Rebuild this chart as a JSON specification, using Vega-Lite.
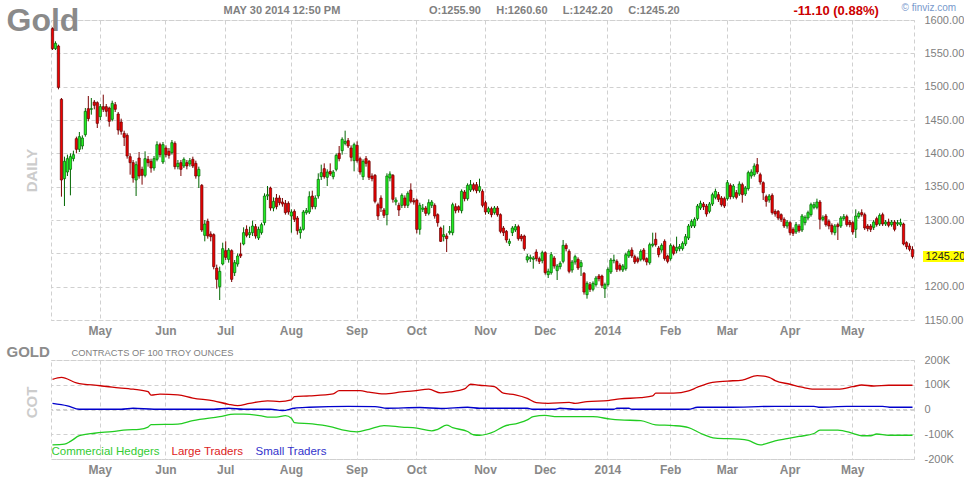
{
  "$schema": "https://vega.github.io/schema/vega-lite/v6.json",
  "background": "#ffffff",
  "padding": {"left": 5, "top": 1, "right": 1, "bottom": 4},
  "spacing": 6,
  "datasets": {
    "prices": [
      {"d":"2013-04-09","o":1587,"h":1589,"l":1555,"c":1557},
      {"d":"2013-04-10","o":1557,"h":1568,"l":1555,"c":1565},
      {"d":"2013-04-11","o":1561,"h":1563,"l":1496,"c":1499},
      {"d":"2013-04-12","o":1481,"h":1483,"l":1335,"c":1360},
      {"d":"2013-04-15","o":1362,"h":1395,"l":1321,"c":1388},
      {"d":"2013-04-16","o":1372,"h":1398,"l":1366,"c":1392},
      {"d":"2013-04-17","o":1376,"h":1400,"l":1337,"c":1395},
      {"d":"2013-04-18","o":1392,"h":1404,"l":1388,"c":1398},
      {"d":"2013-04-19","o":1422,"h":1425,"l":1400,"c":1406},
      {"d":"2013-04-22","o":1406,"h":1432,"l":1402,"c":1425},
      {"d":"2013-04-23","o":1411,"h":1427,"l":1406,"c":1423},
      {"d":"2013-04-24","o":1428,"h":1468,"l":1425,"c":1463},
      {"d":"2013-04-25","o":1467,"h":1486,"l":1448,"c":1452},
      {"d":"2013-04-26","o":1466,"h":1483,"l":1458,"c":1467},
      {"d":"2013-04-29","o":1477,"h":1480,"l":1466,"c":1472},
      {"d":"2013-04-30","o":1476,"h":1478,"l":1438,"c":1445},
      {"d":"2013-05-01","o":1455,"h":1474,"l":1450,"c":1470},
      {"d":"2013-05-02","o":1470,"h":1488,"l":1462,"c":1466},
      {"d":"2013-05-03","o":1470,"h":1474,"l":1455,"c":1463},
      {"d":"2013-05-06","o":1468,"h":1470,"l":1440,"c":1448},
      {"d":"2013-05-07","o":1451,"h":1479,"l":1448,"c":1475},
      {"d":"2013-05-08","o":1473,"h":1477,"l":1462,"c":1466},
      {"d":"2013-05-09","o":1459,"h":1462,"l":1428,"c":1435},
      {"d":"2013-05-10","o":1447,"h":1452,"l":1428,"c":1433},
      {"d":"2013-05-13","o":1430,"h":1434,"l":1411,"c":1424},
      {"d":"2013-05-14","o":1427,"h":1430,"l":1392,"c":1396},
      {"d":"2013-05-15","o":1395,"h":1400,"l":1368,"c":1386},
      {"d":"2013-05-16","o":1386,"h":1390,"l":1356,"c":1363},
      {"d":"2013-05-17","o":1360,"h":1388,"l":1336,"c":1383},
      {"d":"2013-05-20","o":1393,"h":1402,"l":1362,"c":1366},
      {"d":"2013-05-21","o":1376,"h":1380,"l":1353,"c":1367},
      {"d":"2013-05-22","o":1367,"h":1403,"l":1364,"c":1392},
      {"d":"2013-05-23","o":1391,"h":1396,"l":1380,"c":1386},
      {"d":"2013-05-24","o":1388,"h":1392,"l":1371,"c":1378},
      {"d":"2013-05-28","o":1378,"h":1396,"l":1374,"c":1392},
      {"d":"2013-05-29","o":1391,"h":1418,"l":1388,"c":1413},
      {"d":"2013-05-30","o":1413,"h":1416,"l":1394,"c":1398},
      {"d":"2013-05-31","o":1387,"h":1417,"l":1384,"c":1413},
      {"d":"2013-06-03","o":1408,"h":1412,"l":1394,"c":1398},
      {"d":"2013-06-04","o":1403,"h":1408,"l":1392,"c":1397},
      {"d":"2013-06-05","o":1401,"h":1420,"l":1398,"c":1416},
      {"d":"2013-06-06","o":1415,"h":1418,"l":1376,"c":1380},
      {"d":"2013-06-07","o":1380,"h":1390,"l":1376,"c":1385},
      {"d":"2013-06-10","o":1386,"h":1390,"l":1366,"c":1376},
      {"d":"2013-06-11","o":1381,"h":1394,"l":1378,"c":1391},
      {"d":"2013-06-12","o":1386,"h":1390,"l":1376,"c":1381},
      {"d":"2013-06-13","o":1384,"h":1393,"l":1380,"c":1389},
      {"d":"2013-06-14","o":1391,"h":1395,"l":1378,"c":1381},
      {"d":"2013-06-17","o":1385,"h":1389,"l":1362,"c":1366},
      {"d":"2013-06-18","o":1366,"h":1380,"l":1348,"c":1376},
      {"d":"2013-06-19","o":1352,"h":1354,"l":1282,"c":1285},
      {"d":"2013-06-20","o":1277,"h":1300,"l":1268,"c":1294},
      {"d":"2013-06-21","o":1298,"h":1302,"l":1272,"c":1276},
      {"d":"2013-06-24","o":1279,"h":1283,"l":1268,"c":1275},
      {"d":"2013-06-25","o":1278,"h":1280,"l":1226,"c":1230},
      {"d":"2013-06-26","o":1228,"h":1233,"l":1197,"c":1211},
      {"d":"2013-06-27","o":1200,"h":1230,"l":1180,"c":1223},
      {"d":"2013-06-28","o":1234,"h":1266,"l":1232,"c":1257},
      {"d":"2013-07-01","o":1254,"h":1268,"l":1240,"c":1244},
      {"d":"2013-07-02","o":1241,"h":1258,"l":1236,"c":1255},
      {"d":"2013-07-03","o":1254,"h":1256,"l":1207,"c":1211},
      {"d":"2013-07-05","o":1221,"h":1240,"l":1216,"c":1236},
      {"d":"2013-07-08","o":1234,"h":1250,"l":1230,"c":1246},
      {"d":"2013-07-09","o":1249,"h":1266,"l":1243,"c":1246},
      {"d":"2013-07-10","o":1264,"h":1289,"l":1262,"c":1281},
      {"d":"2013-07-11","o":1286,"h":1292,"l":1274,"c":1277},
      {"d":"2013-07-12","o":1278,"h":1290,"l":1273,"c":1281},
      {"d":"2013-07-15","o":1281,"h":1299,"l":1276,"c":1291},
      {"d":"2013-07-16","o":1290,"h":1294,"l":1272,"c":1276},
      {"d":"2013-07-17","o":1273,"h":1290,"l":1270,"c":1286},
      {"d":"2013-07-18","o":1281,"h":1296,"l":1278,"c":1293},
      {"d":"2013-07-19","o":1296,"h":1340,"l":1292,"c":1336},
      {"d":"2013-07-22","o":1336,"h":1351,"l":1330,"c":1338},
      {"d":"2013-07-23","o":1348,"h":1350,"l":1314,"c":1318},
      {"d":"2013-07-24","o":1318,"h":1334,"l":1313,"c":1328},
      {"d":"2013-07-25","o":1333,"h":1339,"l":1316,"c":1320},
      {"d":"2013-07-26","o":1333,"h":1337,"l":1322,"c":1326},
      {"d":"2013-07-29","o":1327,"h":1333,"l":1320,"c":1324},
      {"d":"2013-07-30","o":1325,"h":1330,"l":1308,"c":1311},
      {"d":"2013-07-31","o":1325,"h":1328,"l":1308,"c":1312},
      {"d":"2013-08-01","o":1306,"h":1316,"l":1281,"c":1312},
      {"d":"2013-08-02","o":1313,"h":1316,"l":1297,"c":1301},
      {"d":"2013-08-05","o":1303,"h":1306,"l":1278,"c":1284},
      {"d":"2013-08-06","o":1281,"h":1290,"l":1272,"c":1286},
      {"d":"2013-08-07","o":1286,"h":1315,"l":1284,"c":1312},
      {"d":"2013-08-08","o":1311,"h":1318,"l":1308,"c":1314},
      {"d":"2013-08-09","o":1312,"h":1343,"l":1309,"c":1335},
      {"d":"2013-08-12","o":1336,"h":1344,"l":1316,"c":1320},
      {"d":"2013-08-13","o":1320,"h":1337,"l":1316,"c":1333},
      {"d":"2013-08-14","o":1336,"h":1370,"l":1332,"c":1361},
      {"d":"2013-08-15","o":1365,"h":1383,"l":1360,"c":1371},
      {"d":"2013-08-16","o":1377,"h":1385,"l":1362,"c":1365},
      {"d":"2013-08-19","o":1364,"h":1376,"l":1351,"c":1372},
      {"d":"2013-08-20","o":1373,"h":1385,"l":1366,"c":1369},
      {"d":"2013-08-21","o":1365,"h":1375,"l":1361,"c":1372},
      {"d":"2013-08-22","o":1376,"h":1400,"l":1373,"c":1397},
      {"d":"2013-08-23","o":1400,"h":1411,"l":1388,"c":1392},
      {"d":"2013-08-26","o":1404,"h":1424,"l":1398,"c":1421},
      {"d":"2013-08-27","o":1415,"h":1434,"l":1412,"c":1418},
      {"d":"2013-08-28","o":1419,"h":1423,"l":1408,"c":1411},
      {"d":"2013-08-29","o":1408,"h":1412,"l":1388,"c":1394},
      {"d":"2013-08-30","o":1389,"h":1416,"l":1373,"c":1413},
      {"d":"2013-09-03","o":1412,"h":1418,"l":1386,"c":1389},
      {"d":"2013-09-04","o":1392,"h":1395,"l":1368,"c":1372},
      {"d":"2013-09-05","o":1365,"h":1391,"l":1360,"c":1388},
      {"d":"2013-09-06","o":1392,"h":1396,"l":1380,"c":1385},
      {"d":"2013-09-09","o":1388,"h":1390,"l":1360,"c":1364},
      {"d":"2013-09-10","o":1366,"h":1370,"l":1358,"c":1362},
      {"d":"2013-09-11","o":1367,"h":1369,"l":1325,"c":1328},
      {"d":"2013-09-12","o":1323,"h":1326,"l":1300,"c":1306},
      {"d":"2013-09-13","o":1333,"h":1337,"l":1312,"c":1318},
      {"d":"2013-09-16","o":1315,"h":1318,"l":1303,"c":1307},
      {"d":"2013-09-17","o":1308,"h":1370,"l":1292,"c":1366},
      {"d":"2013-09-18","o":1363,"h":1373,"l":1358,"c":1369},
      {"d":"2013-09-19","o":1367,"h":1369,"l":1326,"c":1331},
      {"d":"2013-09-20","o":1327,"h":1334,"l":1322,"c":1330},
      {"d":"2013-09-23","o":1322,"h":1326,"l":1306,"c":1315},
      {"d":"2013-09-24","o":1322,"h":1340,"l":1318,"c":1337},
      {"d":"2013-09-25","o":1333,"h":1337,"l":1318,"c":1322},
      {"d":"2013-09-26","o":1322,"h":1343,"l":1318,"c":1340},
      {"d":"2013-09-27","o":1345,"h":1355,"l":1325,"c":1328},
      {"d":"2013-09-30","o":1329,"h":1333,"l":1323,"c":1327},
      {"d":"2013-10-01","o":1330,"h":1332,"l":1280,"c":1286},
      {"d":"2013-10-02","o":1286,"h":1326,"l":1278,"c":1322},
      {"d":"2013-10-03","o":1316,"h":1324,"l":1312,"c":1318},
      {"d":"2013-10-04","o":1318,"h":1321,"l":1306,"c":1310},
      {"d":"2013-10-07","o":1310,"h":1331,"l":1307,"c":1326},
      {"d":"2013-10-08","o":1322,"h":1330,"l":1318,"c":1327},
      {"d":"2013-10-09","o":1322,"h":1325,"l":1302,"c":1306},
      {"d":"2013-10-10","o":1308,"h":1310,"l":1290,"c":1296},
      {"d":"2013-10-11","o":1288,"h":1290,"l":1267,"c":1268},
      {"d":"2013-10-14","o":1275,"h":1292,"l":1268,"c":1278},
      {"d":"2013-10-15","o":1276,"h":1280,"l":1252,"c":1272},
      {"d":"2013-10-16","o":1281,"h":1291,"l":1278,"c":1283},
      {"d":"2013-10-17","o":1281,"h":1326,"l":1277,"c":1323},
      {"d":"2013-10-18","o":1320,"h":1325,"l":1310,"c":1314},
      {"d":"2013-10-21","o":1320,"h":1322,"l":1311,"c":1315},
      {"d":"2013-10-22","o":1314,"h":1346,"l":1310,"c":1343},
      {"d":"2013-10-23","o":1342,"h":1345,"l":1328,"c":1332},
      {"d":"2013-10-24","o":1332,"h":1355,"l":1329,"c":1352},
      {"d":"2013-10-25","o":1345,"h":1360,"l":1342,"c":1353},
      {"d":"2013-10-28","o":1353,"h":1356,"l":1343,"c":1346},
      {"d":"2013-10-29","o":1353,"h":1357,"l":1340,"c":1344},
      {"d":"2013-10-30","o":1344,"h":1362,"l":1341,"c":1350},
      {"d":"2013-10-31","o":1343,"h":1346,"l":1319,"c":1322},
      {"d":"2013-11-01","o":1326,"h":1329,"l":1308,"c":1312},
      {"d":"2013-11-04","o":1312,"h":1320,"l":1309,"c":1317},
      {"d":"2013-11-05","o":1317,"h":1320,"l":1304,"c":1308},
      {"d":"2013-11-06","o":1311,"h":1321,"l":1308,"c":1318},
      {"d":"2013-11-07","o":1318,"h":1321,"l":1305,"c":1308},
      {"d":"2013-11-08","o":1308,"h":1310,"l":1280,"c":1283},
      {"d":"2013-11-11","o":1288,"h":1291,"l":1276,"c":1281},
      {"d":"2013-11-12","o":1283,"h":1285,"l":1266,"c":1270},
      {"d":"2013-11-13","o":1265,"h":1272,"l":1261,"c":1268},
      {"d":"2013-11-14","o":1281,"h":1291,"l":1276,"c":1288},
      {"d":"2013-11-15","o":1285,"h":1294,"l":1282,"c":1290},
      {"d":"2013-11-18","o":1290,"h":1293,"l":1269,"c":1272},
      {"d":"2013-11-19","o":1276,"h":1279,"l":1268,"c":1272},
      {"d":"2013-11-20","o":1276,"h":1278,"l":1254,"c":1257},
      {"d":"2013-11-21","o":1240,"h":1249,"l":1236,"c":1245},
      {"d":"2013-11-22","o":1242,"h":1248,"l":1237,"c":1244},
      {"d":"2013-11-25","o":1241,"h":1246,"l":1227,"c":1243},
      {"d":"2013-11-26","o":1252,"h":1256,"l":1238,"c":1242},
      {"d":"2013-11-27","o":1242,"h":1245,"l":1234,"c":1238},
      {"d":"2013-11-29","o":1239,"h":1254,"l":1235,"c":1251},
      {"d":"2013-12-02","o":1251,"h":1253,"l":1218,"c":1221},
      {"d":"2013-12-03","o":1218,"h":1227,"l":1213,"c":1223},
      {"d":"2013-12-04","o":1221,"h":1252,"l":1218,"c":1248},
      {"d":"2013-12-05","o":1243,"h":1246,"l":1227,"c":1231},
      {"d":"2013-12-06","o":1224,"h":1234,"l":1210,"c":1231},
      {"d":"2013-12-09","o":1230,"h":1238,"l":1226,"c":1235},
      {"d":"2013-12-10","o":1238,"h":1270,"l":1235,"c":1262},
      {"d":"2013-12-11","o":1262,"h":1265,"l":1253,"c":1257},
      {"d":"2013-12-12","o":1253,"h":1256,"l":1220,"c":1223},
      {"d":"2013-12-13","o":1225,"h":1240,"l":1221,"c":1237},
      {"d":"2013-12-16","o":1237,"h":1248,"l":1233,"c":1245},
      {"d":"2013-12-17","o":1241,"h":1244,"l":1225,"c":1228},
      {"d":"2013-12-18","o":1230,"h":1240,"l":1216,"c":1236},
      {"d":"2013-12-19","o":1220,"h":1222,"l":1188,"c":1192},
      {"d":"2013-12-20","o":1188,"h":1208,"l":1182,"c":1205},
      {"d":"2013-12-23","o":1203,"h":1207,"l":1192,"c":1196},
      {"d":"2013-12-24","o":1196,"h":1208,"l":1193,"c":1205},
      {"d":"2013-12-26","o":1203,"h":1216,"l":1200,"c":1213},
      {"d":"2013-12-27","o":1216,"h":1219,"l":1208,"c":1212},
      {"d":"2013-12-30","o":1216,"h":1218,"l":1198,"c":1202},
      {"d":"2013-12-31","o":1197,"h":1206,"l":1183,"c":1203},
      {"d":"2014-01-02","o":1203,"h":1229,"l":1200,"c":1226},
      {"d":"2014-01-03","o":1222,"h":1243,"l":1219,"c":1240},
      {"d":"2014-01-06","o":1239,"h":1248,"l":1235,"c":1240},
      {"d":"2014-01-07","o":1238,"h":1241,"l":1222,"c":1226},
      {"d":"2014-01-08","o":1232,"h":1235,"l":1223,"c":1226},
      {"d":"2014-01-09","o":1225,"h":1234,"l":1222,"c":1231},
      {"d":"2014-01-10","o":1227,"h":1251,"l":1224,"c":1248},
      {"d":"2014-01-13","o":1246,"h":1256,"l":1243,"c":1253},
      {"d":"2014-01-14","o":1255,"h":1259,"l":1243,"c":1246},
      {"d":"2014-01-15","o":1245,"h":1248,"l":1234,"c":1237},
      {"d":"2014-01-16","o":1242,"h":1245,"l":1235,"c":1238},
      {"d":"2014-01-17","o":1241,"h":1256,"l":1238,"c":1253},
      {"d":"2014-01-21","o":1255,"h":1258,"l":1238,"c":1241},
      {"d":"2014-01-22","o":1242,"h":1244,"l":1232,"c":1237},
      {"d":"2014-01-23","o":1236,"h":1266,"l":1233,"c":1263},
      {"d":"2014-01-24","o":1262,"h":1281,"l":1259,"c":1264},
      {"d":"2014-01-27","o":1271,"h":1281,"l":1260,"c":1263},
      {"d":"2014-01-28","o":1258,"h":1261,"l":1244,"c":1248},
      {"d":"2014-01-29","o":1255,"h":1265,"l":1251,"c":1262},
      {"d":"2014-01-30","o":1268,"h":1271,"l":1239,"c":1242},
      {"d":"2014-01-31","o":1246,"h":1248,"l":1235,"c":1238},
      {"d":"2014-02-03","o":1242,"h":1265,"l":1239,"c":1262},
      {"d":"2014-02-04","o":1260,"h":1263,"l":1247,"c":1250},
      {"d":"2014-02-05","o":1254,"h":1275,"l":1250,"c":1259},
      {"d":"2014-02-06","o":1257,"h":1264,"l":1253,"c":1260},
      {"d":"2014-02-07","o":1257,"h":1268,"l":1254,"c":1265},
      {"d":"2014-02-10","o":1264,"h":1279,"l":1261,"c":1275},
      {"d":"2014-02-11","o":1273,"h":1294,"l":1270,"c":1291},
      {"d":"2014-02-12","o":1291,"h":1301,"l":1288,"c":1298},
      {"d":"2014-02-13","o":1291,"h":1304,"l":1288,"c":1301},
      {"d":"2014-02-14","o":1302,"h":1324,"l":1299,"c":1321},
      {"d":"2014-02-18","o":1318,"h":1329,"l":1315,"c":1325},
      {"d":"2014-02-19","o":1324,"h":1327,"l":1315,"c":1320},
      {"d":"2014-02-20","o":1321,"h":1324,"l":1305,"c":1309},
      {"d":"2014-02-21","o":1313,"h":1327,"l":1310,"c":1324},
      {"d":"2014-02-24","o":1324,"h":1341,"l":1321,"c":1338},
      {"d":"2014-02-25","o":1334,"h":1347,"l":1331,"c":1343},
      {"d":"2014-02-26","o":1338,"h":1342,"l":1327,"c":1331},
      {"d":"2014-02-27","o":1333,"h":1336,"l":1320,"c":1323},
      {"d":"2014-02-28","o":1332,"h":1335,"l":1318,"c":1321},
      {"d":"2014-03-03","o":1332,"h":1360,"l":1329,"c":1356},
      {"d":"2014-03-04","o":1352,"h":1355,"l":1331,"c":1335},
      {"d":"2014-03-05","o":1335,"h":1354,"l":1332,"c":1351},
      {"d":"2014-03-06","o":1341,"h":1345,"l":1331,"c":1334},
      {"d":"2014-03-07","o":1339,"h":1358,"l":1336,"c":1354},
      {"d":"2014-03-10","o":1353,"h":1356,"l":1326,"c":1338},
      {"d":"2014-03-11","o":1339,"h":1351,"l":1336,"c":1348},
      {"d":"2014-03-12","o":1347,"h":1374,"l":1344,"c":1371},
      {"d":"2014-03-13","o":1366,"h":1376,"l":1362,"c":1372},
      {"d":"2014-03-14","o":1368,"h":1385,"l":1365,"c":1381},
      {"d":"2014-03-17","o":1383,"h":1393,"l":1369,"c":1372},
      {"d":"2014-03-18","o":1368,"h":1371,"l":1353,"c":1357},
      {"d":"2014-03-19","o":1356,"h":1358,"l":1330,"c":1341},
      {"d":"2014-03-20","o":1335,"h":1338,"l":1320,"c":1328},
      {"d":"2014-03-21","o":1330,"h":1339,"l":1326,"c":1336},
      {"d":"2014-03-24","o":1337,"h":1340,"l":1308,"c":1311},
      {"d":"2014-03-25","o":1313,"h":1316,"l":1305,"c":1309},
      {"d":"2014-03-26","o":1313,"h":1315,"l":1300,"c":1303},
      {"d":"2014-03-27","o":1308,"h":1310,"l":1297,"c":1301},
      {"d":"2014-03-28","o":1301,"h":1304,"l":1288,"c":1291},
      {"d":"2014-03-31","o":1291,"h":1300,"l":1287,"c":1297},
      {"d":"2014-04-01","o":1296,"h":1299,"l":1277,"c":1281},
      {"d":"2014-04-02","o":1286,"h":1289,"l":1276,"c":1280},
      {"d":"2014-04-03","o":1282,"h":1297,"l":1279,"c":1293},
      {"d":"2014-04-04","o":1291,"h":1294,"l":1281,"c":1284},
      {"d":"2014-04-07","o":1285,"h":1309,"l":1282,"c":1306},
      {"d":"2014-04-08","o":1296,"h":1307,"l":1292,"c":1304},
      {"d":"2014-04-09","o":1303,"h":1314,"l":1300,"c":1311},
      {"d":"2014-04-10","o":1308,"h":1326,"l":1305,"c":1323},
      {"d":"2014-04-11","o":1319,"h":1327,"l":1316,"c":1323},
      {"d":"2014-04-14","o":1319,"h":1332,"l":1316,"c":1327},
      {"d":"2014-04-15","o":1327,"h":1330,"l":1286,"c":1301},
      {"d":"2014-04-16","o":1301,"h":1307,"l":1298,"c":1304},
      {"d":"2014-04-17","o":1306,"h":1309,"l":1290,"c":1293},
      {"d":"2014-04-21","o":1298,"h":1301,"l":1286,"c":1291},
      {"d":"2014-04-22","o":1292,"h":1295,"l":1278,"c":1282},
      {"d":"2014-04-23","o":1281,"h":1294,"l":1277,"c":1291},
      {"d":"2014-04-24","o":1293,"h":1296,"l":1270,"c":1290},
      {"d":"2014-04-25","o":1291,"h":1306,"l":1288,"c":1303},
      {"d":"2014-04-28","o":1302,"h":1309,"l":1299,"c":1305},
      {"d":"2014-04-29","o":1305,"h":1308,"l":1290,"c":1293},
      {"d":"2014-04-30","o":1297,"h":1300,"l":1289,"c":1293},
      {"d":"2014-05-01","o":1296,"h":1299,"l":1278,"c":1282},
      {"d":"2014-05-02","o":1286,"h":1316,"l":1273,"c":1306},
      {"d":"2014-05-05","o":1305,"h":1313,"l":1302,"c":1310},
      {"d":"2014-05-06","o":1311,"h":1316,"l":1305,"c":1308},
      {"d":"2014-05-07","o":1308,"h":1311,"l":1285,"c":1288},
      {"d":"2014-05-08","o":1291,"h":1294,"l":1283,"c":1287},
      {"d":"2014-05-09","o":1291,"h":1294,"l":1282,"c":1286},
      {"d":"2014-05-12","o":1289,"h":1300,"l":1285,"c":1297},
      {"d":"2014-05-13","o":1302,"h":1305,"l":1290,"c":1293},
      {"d":"2014-05-14","o":1294,"h":1310,"l":1291,"c":1307},
      {"d":"2014-05-15","o":1308,"h":1311,"l":1291,"c":1294},
      {"d":"2014-05-16","o":1294,"h":1300,"l":1291,"c":1297},
      {"d":"2014-05-19","o":1297,"h":1302,"l":1289,"c":1292},
      {"d":"2014-05-20","o":1293,"h":1300,"l":1290,"c":1297},
      {"d":"2014-05-21","o":1297,"h":1300,"l":1283,"c":1286},
      {"d":"2014-05-22","o":1294,"h":1300,"l":1291,"c":1296},
      {"d":"2014-05-23","o":1293,"h":1302,"l":1290,"c":1296},
      {"d":"2014-05-27","o":1294,"h":1296,"l":1262,"c":1264},
      {"d":"2014-05-28","o":1266,"h":1268,"l":1256,"c":1260},
      {"d":"2014-05-29","o":1261,"h":1265,"l":1253,"c":1256},
      {"d":"2014-05-30","o":1255.9,"h":1260.6,"l":1242.2,"c":1245.2}
    ],
    "cot": [
      {"d":"2013-04-09","s":"Large Traders","v":122000},
      {"d":"2013-04-12","s":"Large Traders","v":130000},
      {"d":"2013-04-19","s":"Large Traders","v":108000},
      {"d":"2013-05-01","s":"Large Traders","v":96000},
      {"d":"2013-05-07","s":"Large Traders","v":90000},
      {"d":"2013-05-16","s":"Large Traders","v":82000},
      {"d":"2013-05-23","s":"Large Traders","v":72000},
      {"d":"2013-05-24","s":"Large Traders","v":58000},
      {"d":"2013-05-30","s":"Large Traders","v":62000},
      {"d":"2013-06-07","s":"Large Traders","v":59000},
      {"d":"2013-06-14","s":"Large Traders","v":46000},
      {"d":"2013-06-25","s":"Large Traders","v":35000},
      {"d":"2013-07-02","s":"Large Traders","v":21000},
      {"d":"2013-07-08","s":"Large Traders","v":16000},
      {"d":"2013-07-12","s":"Large Traders","v":25000},
      {"d":"2013-07-22","s":"Large Traders","v":35000},
      {"d":"2013-07-26","s":"Large Traders","v":32000},
      {"d":"2013-08-01","s":"Large Traders","v":39000},
      {"d":"2013-08-02","s":"Large Traders","v":52000},
      {"d":"2013-08-09","s":"Large Traders","v":55000},
      {"d":"2013-08-21","s":"Large Traders","v":63000},
      {"d":"2013-08-23","s":"Large Traders","v":76000},
      {"d":"2013-09-04","s":"Large Traders","v":76000},
      {"d":"2013-09-09","s":"Large Traders","v":70000},
      {"d":"2013-09-16","s":"Large Traders","v":63000},
      {"d":"2013-09-24","s":"Large Traders","v":71000},
      {"d":"2013-09-30","s":"Large Traders","v":75000},
      {"d":"2013-10-07","s":"Large Traders","v":82000},
      {"d":"2013-10-11","s":"Large Traders","v":67000},
      {"d":"2013-10-16","s":"Large Traders","v":71000},
      {"d":"2013-10-23","s":"Large Traders","v":83000},
      {"d":"2013-10-25","s":"Large Traders","v":102000},
      {"d":"2013-10-30","s":"Large Traders","v":98000},
      {"d":"2013-11-06","s":"Large Traders","v":92000},
      {"d":"2013-11-11","s":"Large Traders","v":66000},
      {"d":"2013-11-15","s":"Large Traders","v":59000},
      {"d":"2013-11-21","s":"Large Traders","v":45000},
      {"d":"2013-11-26","s":"Large Traders","v":28000},
      {"d":"2013-12-03","s":"Large Traders","v":25000},
      {"d":"2013-12-12","s":"Large Traders","v":29000},
      {"d":"2013-12-16","s":"Large Traders","v":25000},
      {"d":"2013-12-20","s":"Large Traders","v":32000},
      {"d":"2014-01-02","s":"Large Traders","v":36000},
      {"d":"2014-01-08","s":"Large Traders","v":43000},
      {"d":"2014-01-17","s":"Large Traders","v":48000},
      {"d":"2014-01-24","s":"Large Traders","v":55000},
      {"d":"2014-01-27","s":"Large Traders","v":66000},
      {"d":"2014-02-04","s":"Large Traders","v":66000},
      {"d":"2014-02-11","s":"Large Traders","v":75000},
      {"d":"2014-02-14","s":"Large Traders","v":90000},
      {"d":"2014-02-24","s":"Large Traders","v":110000},
      {"d":"2014-03-03","s":"Large Traders","v":115000},
      {"d":"2014-03-10","s":"Large Traders","v":119000},
      {"d":"2014-03-17","s":"Large Traders","v":137000},
      {"d":"2014-03-21","s":"Large Traders","v":130000},
      {"d":"2014-03-25","s":"Large Traders","v":117000},
      {"d":"2014-04-01","s":"Large Traders","v":102000},
      {"d":"2014-04-07","s":"Large Traders","v":90000},
      {"d":"2014-04-11","s":"Large Traders","v":82000},
      {"d":"2014-04-24","s":"Large Traders","v":82000},
      {"d":"2014-05-01","s":"Large Traders","v":92000},
      {"d":"2014-05-06","s":"Large Traders","v":99000},
      {"d":"2014-05-12","s":"Large Traders","v":95000},
      {"d":"2014-05-19","s":"Large Traders","v":98000},
      {"d":"2014-05-30","s":"Large Traders","v":98000},
      {"d":"2013-04-09","s":"Small Traders","v":25000},
      {"d":"2013-04-16","s":"Small Traders","v":15000},
      {"d":"2013-04-22","s":"Small Traders","v":1000},
      {"d":"2013-05-10","s":"Small Traders","v":1000},
      {"d":"2013-05-16","s":"Small Traders","v":5000},
      {"d":"2013-05-28","s":"Small Traders","v":1000},
      {"d":"2013-06-25","s":"Small Traders","v":1000},
      {"d":"2013-07-02","s":"Small Traders","v":5000},
      {"d":"2013-07-10","s":"Small Traders","v":1000},
      {"d":"2013-07-23","s":"Small Traders","v":1000},
      {"d":"2013-07-29","s":"Small Traders","v":-4000},
      {"d":"2013-08-02","s":"Small Traders","v":5000},
      {"d":"2013-08-09","s":"Small Traders","v":9000},
      {"d":"2013-08-28","s":"Small Traders","v":13000},
      {"d":"2013-09-11","s":"Small Traders","v":12000},
      {"d":"2013-09-17","s":"Small Traders","v":5000},
      {"d":"2013-10-02","s":"Small Traders","v":8000},
      {"d":"2013-10-11","s":"Small Traders","v":4000},
      {"d":"2013-10-24","s":"Small Traders","v":9000},
      {"d":"2013-10-30","s":"Small Traders","v":5000},
      {"d":"2013-11-21","s":"Small Traders","v":5000},
      {"d":"2013-11-25","s":"Small Traders","v":1000},
      {"d":"2013-12-05","s":"Small Traders","v":1000},
      {"d":"2013-12-09","s":"Small Traders","v":5000},
      {"d":"2013-12-16","s":"Small Traders","v":1000},
      {"d":"2014-01-06","s":"Small Traders","v":1000},
      {"d":"2014-01-07","s":"Small Traders","v":5000},
      {"d":"2014-01-13","s":"Small Traders","v":5000},
      {"d":"2014-01-14","s":"Small Traders","v":1000},
      {"d":"2014-02-11","s":"Small Traders","v":1000},
      {"d":"2014-02-14","s":"Small Traders","v":9000},
      {"d":"2014-03-03","s":"Small Traders","v":9000},
      {"d":"2014-03-25","s":"Small Traders","v":13000},
      {"d":"2014-04-11","s":"Small Traders","v":13000},
      {"d":"2014-04-15","s":"Small Traders","v":9000},
      {"d":"2014-04-29","s":"Small Traders","v":13000},
      {"d":"2014-05-15","s":"Small Traders","v":13000},
      {"d":"2014-05-20","s":"Small Traders","v":9000},
      {"d":"2014-05-30","s":"Small Traders","v":9000},
      {"d":"2013-04-09","s":"Commercial Hedgers","v":-143000},
      {"d":"2013-04-15","s":"Commercial Hedgers","v":-140000},
      {"d":"2013-04-17","s":"Commercial Hedgers","v":-129000},
      {"d":"2013-04-22","s":"Commercial Hedgers","v":-106000},
      {"d":"2013-04-29","s":"Commercial Hedgers","v":-96000},
      {"d":"2013-05-07","s":"Commercial Hedgers","v":-89000},
      {"d":"2013-05-14","s":"Commercial Hedgers","v":-82000},
      {"d":"2013-05-20","s":"Commercial Hedgers","v":-80000},
      {"d":"2013-05-23","s":"Commercial Hedgers","v":-71000},
      {"d":"2013-05-24","s":"Commercial Hedgers","v":-61000},
      {"d":"2013-06-07","s":"Commercial Hedgers","v":-59000},
      {"d":"2013-06-14","s":"Commercial Hedgers","v":-45000},
      {"d":"2013-06-27","s":"Commercial Hedgers","v":-29000},
      {"d":"2013-07-05","s":"Commercial Hedgers","v":-19000},
      {"d":"2013-07-10","s":"Commercial Hedgers","v":-19000},
      {"d":"2013-07-18","s":"Commercial Hedgers","v":-26000},
      {"d":"2013-07-22","s":"Commercial Hedgers","v":-31000},
      {"d":"2013-07-25","s":"Commercial Hedgers","v":-31000},
      {"d":"2013-07-30","s":"Commercial Hedgers","v":-25000},
      {"d":"2013-08-01","s":"Commercial Hedgers","v":-35000},
      {"d":"2013-08-02","s":"Commercial Hedgers","v":-53000},
      {"d":"2013-08-12","s":"Commercial Hedgers","v":-58000},
      {"d":"2013-08-20","s":"Commercial Hedgers","v":-69000},
      {"d":"2013-08-26","s":"Commercial Hedgers","v":-82000},
      {"d":"2013-09-03","s":"Commercial Hedgers","v":-90000},
      {"d":"2013-09-09","s":"Commercial Hedgers","v":-80000},
      {"d":"2013-09-16","s":"Commercial Hedgers","v":-65000},
      {"d":"2013-09-24","s":"Commercial Hedgers","v":-71000},
      {"d":"2013-10-01","s":"Commercial Hedgers","v":-75000},
      {"d":"2013-10-08","s":"Commercial Hedgers","v":-86000},
      {"d":"2013-10-10","s":"Commercial Hedgers","v":-80000},
      {"d":"2013-10-15","s":"Commercial Hedgers","v":-63000},
      {"d":"2013-10-17","s":"Commercial Hedgers","v":-73000},
      {"d":"2013-10-24","s":"Commercial Hedgers","v":-89000},
      {"d":"2013-10-28","s":"Commercial Hedgers","v":-102000},
      {"d":"2013-10-30","s":"Commercial Hedgers","v":-104000},
      {"d":"2013-11-06","s":"Commercial Hedgers","v":-89000},
      {"d":"2013-11-11","s":"Commercial Hedgers","v":-69000},
      {"d":"2013-11-18","s":"Commercial Hedgers","v":-55000},
      {"d":"2013-11-21","s":"Commercial Hedgers","v":-42000},
      {"d":"2013-11-25","s":"Commercial Hedgers","v":-29000},
      {"d":"2013-12-02","s":"Commercial Hedgers","v":-24000},
      {"d":"2013-12-06","s":"Commercial Hedgers","v":-29000},
      {"d":"2013-12-24","s":"Commercial Hedgers","v":-29000},
      {"d":"2014-01-03","s":"Commercial Hedgers","v":-39000},
      {"d":"2014-01-08","s":"Commercial Hedgers","v":-42000},
      {"d":"2014-01-17","s":"Commercial Hedgers","v":-45000},
      {"d":"2014-01-27","s":"Commercial Hedgers","v":-62000},
      {"d":"2014-02-04","s":"Commercial Hedgers","v":-65000},
      {"d":"2014-02-11","s":"Commercial Hedgers","v":-73000},
      {"d":"2014-02-18","s":"Commercial Hedgers","v":-96000},
      {"d":"2014-02-25","s":"Commercial Hedgers","v":-116000},
      {"d":"2014-03-07","s":"Commercial Hedgers","v":-120000},
      {"d":"2014-03-12","s":"Commercial Hedgers","v":-125000},
      {"d":"2014-03-18","s":"Commercial Hedgers","v":-143000},
      {"d":"2014-03-25","s":"Commercial Hedgers","v":-127000},
      {"d":"2014-03-31","s":"Commercial Hedgers","v":-118000},
      {"d":"2014-04-04","s":"Commercial Hedgers","v":-109000},
      {"d":"2014-04-11","s":"Commercial Hedgers","v":-97000},
      {"d":"2014-04-15","s":"Commercial Hedgers","v":-83000},
      {"d":"2014-04-24","s":"Commercial Hedgers","v":-83000},
      {"d":"2014-05-01","s":"Commercial Hedgers","v":-96000},
      {"d":"2014-05-06","s":"Commercial Hedgers","v":-106000},
      {"d":"2014-05-09","s":"Commercial Hedgers","v":-106000},
      {"d":"2014-05-13","s":"Commercial Hedgers","v":-99000},
      {"d":"2014-05-19","s":"Commercial Hedgers","v":-104000},
      {"d":"2014-05-30","s":"Commercial Hedgers","v":-104000}
    ]
  },
  "vconcat": [
    {
      "width": 863,
      "height": 300,
      "data": {"name": "prices"},
      "layer": [
        {
          "mark": {"type": "rule", "strokeWidth": 1},
          "encoding": {
            "x": {
              "field": "d",
              "type": "ordinal",
              "scale": {"type": "band", "paddingInner": 0, "paddingOuter": 0},
              "axis": {
                "orient": "bottom",
                "values": ["2013-05-01","2013-06-03","2013-07-01","2013-08-01","2013-09-03","2013-10-01","2013-11-01","2013-12-02","2014-01-02","2014-02-03","2014-03-03","2014-04-01","2014-05-01"],
                "labelExpr": "substring(datum.value, 5, 7) == '01' ? substring(datum.value, 0, 4) : ['Jan','Feb','Mar','Apr','May','Jun','Jul','Aug','Sep','Oct','Nov','Dec'][toNumber(substring(datum.value, 5, 7)) - 1]",
                "labelAngle": 0,
                "labelOverlap": false,
                "labelFontSize": 12,
                "labelFontWeight": "bold",
                "labelColor": "#888888",
                "labelPadding": 5,
                "grid": true,
                "title": null
              }
            },
            "y": {
              "field": "l",
              "type": "quantitative",
              "scale": {"domain": [1150, 1600], "nice": false, "zero": false},
              "axis": {
                "orient": "right",
                "values": [1150, 1200, 1250, 1300, 1350, 1400, 1450, 1500, 1550, 1600],
                "labelExpr": "datum.value == 1250 ? '' : format(datum.value, '.2f')",
                "labelFontSize": 11,
                "labelColor": "#808080",
                "labelPadding": 10,
                "grid": true,
                "title": null
              }
            },
            "y2": {"field": "h"},
            "color": {"condition": {"test": "datum.c >= datum.o", "value": "#006600"}, "value": "#7a0000"}
          }
        },
        {
          "mark": {"type": "bar", "width": 2.3, "strokeWidth": 0.7},
          "encoding": {
            "x": {
              "field": "d",
              "type": "ordinal",
              "axis": {
                "orient": "top", "labels": false, "grid": false,
                "title": "MAY 30 2014 12:50 PM\u00a0\u00a0\u00a0\u00a0\u00a0\u00a0\u00a0\u00a0\u00a0\u00a0\u00a0\u00a0\u00a0\u00a0\u00a0\u00a0\u00a0\u00a0\u00a0\u00a0\u00a0\u00a0\u00a0\u00a0\u00a0\u00a0\u00a0\u00a0\u00a0O:1255.90\u00a0\u00a0\u00a0\u00a0\u00a0H:1260.60\u00a0\u00a0\u00a0\u00a0\u00a0L:1242.20\u00a0\u00a0\u00a0\u00a0\u00a0C:1245.20",
                "titleX": 172, "titleY": -10, "titleAlign": "left", "titleBaseline": "middle",
                "titleFontSize": 11, "titleFontWeight": "bold", "titleColor": "#808080"
              }
            },
            "y": {
              "field": "o",
              "type": "quantitative",
              "axis": {
                "orient": "left", "labels": false, "grid": false,
                "title": "DAILY",
                "titleX": -20, "titleY": 150, "titleAngle": -90, "titleAlign": "center", "titleBaseline": "middle",
                "titleFontSize": 15, "titleFontWeight": "bold", "titleColor": "#cccccc"
              }
            },
            "y2": {"field": "c"},
            "fill": {"condition": {"test": "datum.c >= datum.o", "value": "#22ee22"}, "value": "#ee0000"},
            "stroke": {"condition": {"test": "datum.c >= datum.o", "value": "#006600"}, "value": "#660000"}
          }
        },
        {
          "transform": [{"filter": "datum.d == '2014-05-30'"}],
          "mark": {"type": "bar", "width": 41, "xOffset": 31, "yOffset": -5.5, "y2Offset": 5.5, "color": "#ffff00"},
          "encoding": {
            "x": {
              "field": "d",
              "type": "ordinal",
              "axis": {
                "orient": "top", "labels": false, "grid": false,
                "title": "Gold",
                "titleX": -45, "titleY": 10, "titleAlign": "left", "titleBaseline": "alphabetic",
                "titleFontSize": 32, "titleFontWeight": "bold", "titleColor": "#8a8a8a"
              }
            },
            "y": {
              "field": "c",
              "type": "quantitative",
              "axis": {
                "orient": "left", "labels": false, "grid": false,
                "title": "-11.10 (0.88%)",
                "titleX": 742, "titleY": -10, "titleAngle": 0, "titleAlign": "left", "titleBaseline": "middle",
                "titleFontSize": 13, "titleFontWeight": "bold", "titleColor": "#cc0000"
              }
            },
            "y2": {"field": "c"}
          }
        },
        {
          "transform": [{"filter": "datum.d == '2014-05-30'"}],
          "mark": {"type": "text", "align": "left", "baseline": "middle", "dx": 13, "fontSize": 11, "color": "#222222"},
          "encoding": {
            "x": {
              "field": "d",
              "type": "ordinal",
              "axis": {
                "orient": "top", "labels": false, "grid": false,
                "title": "\u00a9 finviz.com",
                "titleX": 850, "titleY": -13, "titleAlign": "left", "titleBaseline": "middle",
                "titleFontSize": 10, "titleFontWeight": "normal", "titleColor": "#7799cc"
              }
            },
            "y": {"field": "c", "type": "quantitative", "axis": null},
            "text": {"field": "c", "type": "quantitative", "format": ".2f"}
          }
        }
      ],
      "resolve": {"axis": {"x": "independent", "y": "independent"}}
    },
    {
      "width": 863,
      "height": 99,
      "layer": [
        {
          "data": {"values": [{}]},
          "mark": {"type": "rule", "color": "#d0d0d0", "strokeDash": [4, 3]},
          "encoding": {
            "y": {
              "datum": 0,
              "type": "quantitative",
              "axis": {
                "orient": "left", "labels": false, "grid": false,
                "title": "COT",
                "titleX": -20, "titleY": 42, "titleAngle": -90, "titleAlign": "center", "titleBaseline": "middle",
                "titleFontSize": 15, "titleFontWeight": "bold", "titleColor": "#cccccc"
              }
            }
          }
        },
        {
          "data": {"name": "cot"},
          "mark": {"type": "line", "strokeWidth": 1.3, "interpolate": "monotone"},
          "encoding": {
            "x": {
              "field": "d",
              "type": "ordinal",
              "scale": {"type": "band", "paddingInner": 0, "paddingOuter": 0},
              "axis": {
                "orient": "bottom",
                "values": ["2013-05-01","2013-06-03","2013-07-01","2013-08-01","2013-09-03","2013-10-01","2013-11-01","2013-12-02","2014-01-02","2014-02-03","2014-03-03","2014-04-01","2014-05-01"],
                "labelExpr": "substring(datum.value, 5, 7) == '01' ? substring(datum.value, 0, 4) : ['Jan','Feb','Mar','Apr','May','Jun','Jul','Aug','Sep','Oct','Nov','Dec'][toNumber(substring(datum.value, 5, 7)) - 1]",
                "labelAngle": 0,
                "labelOverlap": false,
                "labelFontSize": 12,
                "labelFontWeight": "bold",
                "labelColor": "#888888",
                "labelPadding": 5,
                "grid": true,
                "title": "CONTRACTS OF 100 TROY OUNCES",
                "titleX": 20, "titleY": -106.5, "titleAlign": "left", "titleBaseline": "middle",
                "titleFontSize": 9.3, "titleFontWeight": "normal", "titleColor": "#808080"
              }
            },
            "y": {
              "field": "v",
              "type": "quantitative",
              "scale": {"domain": [-200000, 200000], "nice": false},
              "axis": {
                "orient": "right",
                "values": [-200000, -100000, 0, 100000, 200000],
                "labelExpr": "datum.value == 0 ? '0' : (datum.value < 0 ? '-' : '') + (abs(datum.value) / 1000) + 'K'",
                "labelFontSize": 11,
                "labelColor": "#808080",
                "labelPadding": 10,
                "grid": true,
                "title": "GOLD",
                "titleX": -908, "titleY": -9, "titleAngle": 0, "titleAlign": "left", "titleBaseline": "middle",
                "titleFontSize": 15, "titleFontWeight": "bold", "titleColor": "#8c8c8c"
              }
            },
            "color": {
              "field": "s",
              "type": "nominal",
              "scale": {"domain": ["Commercial Hedgers", "Large Traders", "Small Traders"], "range": ["#22cc22", "#cc0000", "#0000cc"]},
              "legend": {
                "orient": "none", "legendX": -11, "legendY": 86, "direction": "horizontal",
                "title": null, "symbolSize": 0, "symbolStrokeWidth": 0, "symbolOpacity": 0,
                "labelOffset": 0, "columnPadding": -3, "padding": 0, "labelFontSize": 11.5, "labelLimit": 0,
                "encode": {"labels": {"update": {"fill": {"signal": "datum.value == 'Commercial Hedgers' ? '#33cc33' : datum.value == 'Large Traders' ? '#dd2222' : '#3333cc'"}}}}
              }
            }
          }
        }
      ],
      "resolve": {"axis": {"y": "independent"}}
    }
  ],
  "resolve": {"scale": {"x": "shared"}, "legend": {"color": "independent"}},
  "config": {
    "font": "Liberation Sans",
    "view": {"stroke": "#d0d0d0", "strokeDash": [4, 3]},
    "axis": {"gridColor": "#d0d0d0", "gridDash": [4, 3], "gridWidth": 1, "domain": false, "ticks": false}
  }
}
